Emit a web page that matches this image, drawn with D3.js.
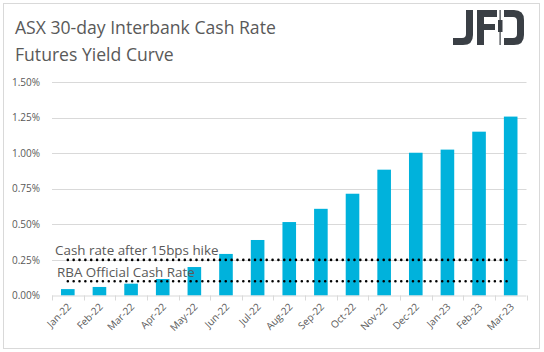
<!DOCTYPE html>
<html>
<head>
<meta charset="utf-8">
<script src="https://cdn.jsdelivr.net/npm/d3@7"></script>
<style>
  body { margin: 0; background: #fff; }
  text { font-family: "Open Sans", sans-serif; }
</style>
</head>
<body>
<svg id="chart"></svg>
<script>
// data
const months = ['Jan-22', 'Feb-22', 'Mar-22', 'Apr-22', 'May-22', 'Jun-22', 'Jul-22', 'Aug-22',
  'Sep-22', 'Oct-22', 'Nov-22', 'Dec-22', 'Jan-23', 'Feb-23', 'Mar-23'];
const yieldPct = [0.045, 0.06, 0.083, 0.116, 0.20, 0.292, 0.39, 0.516,
  0.609, 0.715, 0.884, 1.003, 1.025, 1.151, 1.257];
const hikeRate = 0.25;
const officialRate = 0.10;
const yTicks = [0, 0.25, 0.5, 0.75, 1.0, 1.25, 1.5];

const width = 544, height = 352;
const margin = { top: 82, right: 17, bottom: 56, left: 52 };
const innerW = 526.5 - margin.left;
const innerH = 295.5 - margin.top;

const svg = d3.select('#chart')
  .attr('width', width)
  .attr('height', height);

// outer frame
svg.append('rect')
  .attr('x', 3.5).attr('y', 3.5)
  .attr('width', 536).attr('height', 345)
  .attr('fill', 'none')
  .attr('stroke', '#d9d9d9');

// title
const title = svg.append('text')
  .attr('x', 15).attr('y', 34)
  .style('font-size', '17.6px')
  .style('fill', '#595959');
title.append('tspan').attr('x', 15).text('ASX 30-day Interbank Cash Rate');
title.append('tspan').attr('x', 15).attr('y', 61).text('Futures Yield Curve');

// JFD logo
const logo = svg.append('g').attr('fill', '#3a3f45');
logo.append('path').attr('d', 'M466,10 h7 v25 q0,10 -10,10 h-10 v-7 h9 q4,0 4,-4 z');
logo.append('path').attr('d', 'M477,10 h20 v7 h-13 v7 h11 v6 h-11 v15 h-7 z');
logo.append('rect').attr('x', 499.5).attr('y', 10).attr('width', 1.2).attr('height', 35);
logo.append('rect').attr('x', 498).attr('y', 20).attr('width', 4.5).attr('height', 12);
logo.append('path').attr('d', 'M504,10 h10 q10,0 10,10 v15 q0,10 -10,10 h-10 v-7 h9 q4,0 4,-4 v-13 q0,-4 -4,-4 h-9 z');

const chart = svg.append('g')
  .attr('transform', `translate(${margin.left},${margin.top})`);

const xScale = d3.scaleBand()
  .domain(months)
  .range([0, innerW])
  .paddingInner(0.57)
  .paddingOuter(0.285);

const xPoint = d3.scalePoint()
  .domain(months)
  .range([0, innerW])
  .padding(0.5);

const yScale = d3.scaleLinear()
  .domain([0, 1.5])
  .range([innerH, 0]);

// gridlines
chart.append('g')
  .selectAll('line')
  .data(yTicks.slice(1))
  .join('line')
  .attr('x1', 0).attr('x2', innerW)
  .attr('y1', d => Math.round(yScale(d)) + 0.5)
  .attr('y2', d => Math.round(yScale(d)) + 0.5)
  .attr('stroke', '#d9d9d9');

// y axis labels
const yAxis = d3.axisLeft(yScale)
  .tickValues(yTicks)
  .tickSize(0)
  .tickPadding(12)
  .tickFormat(d => d.toFixed(2) + '%');
const yAxisG = chart.append('g').call(yAxis);
yAxisG.select('.domain').remove();
yAxisG.selectAll('text')
  .style('font-size', '10px')
  .style('font-family', '"Open Sans", sans-serif')
  .style('fill', '#595959');

// bars
chart.append('g')
  .selectAll('rect')
  .data(months)
  .join('rect')
  .attr('x', d => xScale(d))
  .attr('width', xScale.bandwidth())
  .attr('y', (d, i) => yScale(yieldPct[i]))
  .attr('height', (d, i) => innerH - yScale(yieldPct[i]))
  .attr('fill', '#00b2dc');

// x axis
const xAxisG = chart.append('g')
  .attr('transform', `translate(0,${innerH})`);
xAxisG.append('line')
  .attr('x1', 0).attr('x2', innerW)
  .attr('y1', 0.5).attr('y2', 0.5)
  .attr('stroke', '#d9d9d9');
const step = innerW / months.length;
xAxisG.selectAll('.tick-mark')
  .data(d3.range(months.length + 1))
  .join('line')
  .attr('class', 'tick-mark')
  .attr('x1', d => Math.round(d * step) + 0.5)
  .attr('x2', d => Math.round(d * step) + 0.5)
  .attr('y1', 0).attr('y2', 5)
  .attr('stroke', '#d9d9d9');
xAxisG.selectAll('.x-label')
  .data(months)
  .join('text')
  .attr('class', 'x-label')
  .attr('text-anchor', 'end')
  .attr('transform', d => `translate(${xPoint(d) + 4},${12}) rotate(-45)`)
  .style('font-size', '10px')
  .style('fill', '#595959')
  .text(d => d);

// dotted reference lines
const refLine = d3.line()
  .x(d => xPoint(d))
  .y(0);
[hikeRate, officialRate].forEach(r => {
  chart.append('path')
    .datum([months[0], months[months.length - 1]])
    .attr('transform', `translate(0,${yScale(r)})`)
    .attr('d', refLine)
    .attr('fill', 'none')
    .attr('stroke', '#000')
    .attr('stroke-width', 2.6)
    .attr('stroke-linecap', 'round')
    .attr('stroke-dasharray', '0 5.85');
});

// annotations
chart.append('text')
  .attr('x', 55 - margin.left).attr('y', 255 - margin.top)
  .style('font-size', '13.4px')
  .style('fill', '#595959')
  .text('Cash rate after 15bps hike');
chart.append('text')
  .attr('x', 57 - margin.left).attr('y', 277 - margin.top)
  .style('font-size', '13.4px')
  .style('fill', '#595959')
  .text('RBA Official Cash Rate');
</script>
</body>
</html>
